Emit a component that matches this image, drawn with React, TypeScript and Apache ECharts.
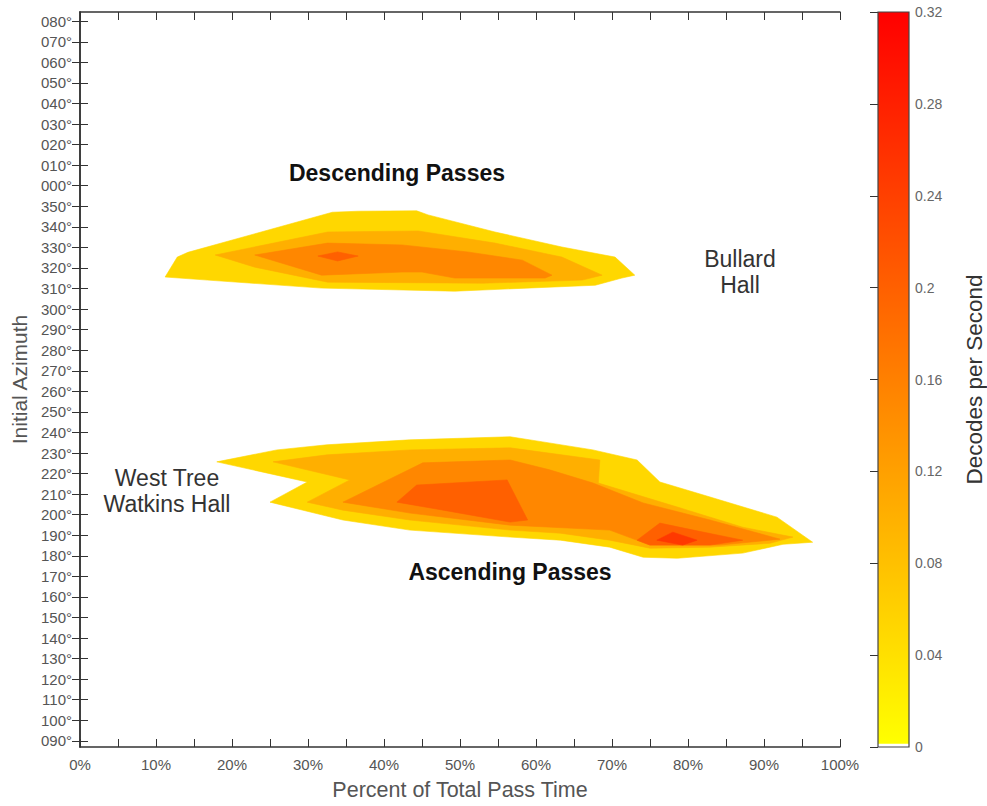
import React, { useEffect, useRef } from 'react';
import * as echarts from 'echarts';

// ---------- data ----------
// y axis: initial azimuth, unwrapped (360 -> 000°, 440 -> 080°)
const AZIMUTH_TICKS = [
  90, 100, 110, 120, 130, 140, 150, 160, 170, 180, 190, 200, 210, 220, 230, 240, 250, 260,
  270, 280, 290, 300, 310, 320, 330, 340, 350, 360, 370, 380, 390, 400, 410, 420, 430, 440,
];
const AZ_MIN = 87;
const AZ_MAX = 444.5;
const PCT_MIN = 0;
const PCT_MAX = 100;
const PCT_TICK_STEP = 5;
const PCT_LABEL_STEP = 10;

const CBAR_MIN = 0;
const CBAR_MAX = 0.32;
const CBAR_STEP = 0.04;

// contour levels (decodes per second)
const LEVELS = [0.05, 0.1, 0.15, 0.2, 0.25];

// contour polygons: [percent of pass time, azimuth]
const DESC_L1: [number, number][] = [
  [11.2, 315.6], [12.8, 325.3], [14.2, 327.6], [33.2, 347.1], [36.6, 347.6], [44.3, 347.8],
  [45.8, 345.8], [54.6, 337.5], [63.4, 330.2], [70.4, 325.3], [73.0, 316.5], [71.3, 315.1],
  [67.8, 311.6], [49.3, 308.7], [31.8, 310.2], [16.8, 314.1],
];
const DESC_L2: [number, number][] = [
  [17.8, 326.3], [32.6, 337.5], [44.5, 338.0], [54.6, 332.1], [63.4, 325.3], [68.7, 316.5],
  [66.1, 314.1], [53.0, 312.6], [32.6, 313.1], [23.0, 320.4],
];
const DESC_L3: [number, number][] = [
  [23.0, 326.3], [32.6, 332.1], [42.4, 331.2], [51.0, 327.8], [58.2, 323.8], [62.1, 316.5],
  [61.2, 315.1], [49.3, 315.1], [45.0, 318.0], [42.4, 318.0], [31.8, 316.5],
];
const DESC_L4: [number, number][] = [
  [31.3, 325.8], [33.9, 327.8], [36.6, 325.8], [33.9, 323.4],
];
const ASC_L1: [number, number][] = [
  [18.0, 225.7], [25.9, 231.5], [32.5, 234.0], [43.4, 236.4], [56.6, 237.9], [60.9, 235.4],
  [67.5, 231.5], [73.3, 226.6], [76.3, 215.9], [82.9, 208.6], [91.7, 198.8], [96.4, 186.6],
  [92.5, 185.6], [87.2, 181.3], [78.6, 178.8], [74.1, 179.3], [69.7, 184.2], [63.2, 187.6],
  [56.6, 189.1], [43.4, 192.5], [34.6, 197.4], [25.0, 206.1], [29.9, 215.9],
];
const ASC_L2: [number, number][] = [
  [25.4, 225.7], [32.5, 229.1], [43.4, 231.5], [56.6, 232.5], [68.4, 226.6], [68.2, 215.4],
  [78.6, 203.7], [87.2, 193.9], [93.8, 189.1], [90.8, 186.1], [82.9, 184.2], [75.0, 183.7],
  [69.7, 187.6], [63.2, 191.0], [56.6, 192.5], [43.4, 197.4], [34.6, 202.2], [29.9, 206.1],
  [35.5, 216.9],
];
const ASC_L3: [number, number][] = [
  [34.6, 206.1], [45.1, 225.2], [56.6, 226.6], [61.8, 221.8], [67.5, 215.4], [74.1, 205.7],
  [82.9, 197.4], [92.1, 188.1], [84.2, 185.2], [75.0, 185.2], [69.7, 192.5], [56.6, 194.9],
  [43.4, 200.8],
];
const ASC_L4_LEFT: [number, number][] = [
  [41.7, 206.1], [44.3, 214.4], [56.2, 216.9], [58.9, 197.4], [56.6, 196.4], [47.8, 202.2],
];
const ASC_L4_RIGHT: [number, number][] = [
  [73.3, 187.6], [76.3, 195.9], [80.7, 192.5], [87.2, 187.6], [82.9, 185.2], [75.0, 185.2],
];
const ASC_L5: [number, number][] = [
  [75.9, 187.6], [78.0, 191.5], [81.2, 187.6], [79.3, 185.2],
];

const CONTOURS: { level: number; pts: [number, number][] }[] = [
  { level: LEVELS[0], pts: DESC_L1 },
  { level: LEVELS[0], pts: ASC_L1 },
  { level: LEVELS[1], pts: DESC_L2 },
  { level: LEVELS[1], pts: ASC_L2 },
  { level: LEVELS[2], pts: DESC_L3 },
  { level: LEVELS[2], pts: ASC_L3 },
  { level: LEVELS[3], pts: DESC_L4 },
  { level: LEVELS[3], pts: ASC_L4_LEFT },
  { level: LEVELS[3], pts: ASC_L4_RIGHT },
  { level: LEVELS[4], pts: ASC_L5 },
];

const COLOR_LOW = '#ffff00';
const COLOR_HIGH = '#ff0000';
const FONT = 'Liberation Sans, Arial, sans-serif';

const fmtAz = (v: number) => String(Math.round(v) % 360).padStart(3, '0') + '°';

export default function App() {
  const ref = useRef<HTMLDivElement>(null);
  useEffect(() => {
    const chart = echarts.init(ref.current!, null, { renderer: 'svg' });
    const axisLine = { show: true, lineStyle: { color: '#333', width: 1.5 } };
    const tick = { show: true, inside: true, length: 8, lineStyle: { color: '#333', width: 1 } };
    const option: any = {
      animation: false,
      backgroundColor: '#ffffff',
      textStyle: { fontFamily: FONT },
      visualMap: {
        type: 'continuous',
        show: false,
        min: CBAR_MIN,
        max: CBAR_MAX,
        dimension: 2,
        seriesIndex: 0,
        inRange: { color: [COLOR_LOW, COLOR_HIGH] },
      },
      grid: [
        { left: 80, right: 147, top: 12, bottom: 59 },
        { left: 878, right: 75, top: 12, bottom: 59 },
      ],
      xAxis: [
        {
          gridIndex: 0, type: 'value', min: PCT_MIN, max: PCT_MAX, interval: PCT_TICK_STEP,
          position: 'bottom', axisLine, axisTick: tick, splitLine: { show: false },
          axisLabel: {
            fontSize: 15, color: '#555', margin: 10, fontFamily: FONT,
            formatter: (v: number) => (v % PCT_LABEL_STEP === 0 ? v + '%' : ''),
          },
          name: 'Percent of Total Pass Time', nameLocation: 'middle', nameGap: 32,
          nameTextStyle: { fontSize: 21.5, color: '#555', fontFamily: FONT },
        },
        {
          gridIndex: 0, type: 'value', min: PCT_MIN, max: PCT_MAX, interval: PCT_TICK_STEP,
          position: 'top', axisLine, axisTick: tick, axisLabel: { show: false }, splitLine: { show: false },
        },
        { gridIndex: 1, type: 'value', min: 0, max: 1, show: false },
      ],
      yAxis: [
        {
          gridIndex: 0, type: 'value', min: AZ_MIN, max: AZ_MAX, position: 'left',
          axisLine, axisTick: { ...tick, customValues: AZIMUTH_TICKS }, splitLine: { show: false },
          axisLabel: { customValues: AZIMUTH_TICKS, formatter: fmtAz, fontSize: 15, color: '#555', margin: 8, fontFamily: FONT },
          name: 'Initial Azimuth', nameLocation: 'middle', nameGap: 46,
          nameTextStyle: { fontSize: 21, color: '#555', fontFamily: FONT },
        },
        {
          gridIndex: 0, type: 'value', min: AZ_MIN, max: AZ_MAX, position: 'right',
          axisLine, axisTick: { ...tick, customValues: AZIMUTH_TICKS }, splitLine: { show: false },
          axisLabel: { show: false },
        },
        {
          gridIndex: 1, type: 'value', min: CBAR_MIN, max: CBAR_MAX, interval: CBAR_STEP, position: 'right',
          axisLine: { show: false }, axisTick: { ...tick, length: 8 }, splitLine: { show: false },
          axisLabel: { fontSize: 14, color: '#666', margin: 6, fontFamily: FONT },
          name: 'Decodes per Second', nameLocation: 'middle', nameGap: 54, nameRotate: 90,
          nameTextStyle: { fontSize: 22.5, color: '#333', fontFamily: FONT },
        },
      ],
      series: [
        {
          type: 'custom',
          xAxisIndex: 0,
          yAxisIndex: 0,
          encode: { x: 0, y: 1 },
          data: CONTOURS.map((c, i) => [c.pts[0][0], c.pts[0][1], c.level, i]),
          renderItem: (params: any, api: any) => {
            const c = CONTOURS[api.value(3)];
            const points = c.pts.map((p) => api.coord(p));
            const color = api.visual('color');
            return {
              type: 'polygon',
              shape: { points },
              style: { fill: color, stroke: color, lineWidth: 0.6 },
            };
          },
          silent: true,
          z: 2,
        },
        {
          type: 'custom',
          xAxisIndex: 2,
          yAxisIndex: 2,
          data: [[0, CBAR_MIN]],
          renderItem: (params: any, api: any) => {
            const p0 = api.coord([0, CBAR_MAX]);
            const p1 = api.coord([1, CBAR_MIN]);
            return {
              type: 'rect',
              shape: { x: p0[0], y: p0[1], width: p1[0] - p0[0], height: p1[1] - p0[1] },
              style: {
                fill: new echarts.graphic.LinearGradient(0, 1, 0, 0, [
                  { offset: 0, color: '#ffffff' },
                  { offset: 0.004, color: '#ffffff' },
                  { offset: 0.005, color: COLOR_LOW },
                  { offset: 1, color: COLOR_HIGH },
                ]),
                stroke: '#444',
                lineWidth: 1.2,
              },
            };
          },
          silent: true,
          z: 1,
        },
      ],
      graphic: [
        {
          type: 'text', x: 397, y: 173,
          style: { text: 'Descending Passes', fill: '#111', font: `bold 23px ${FONT}`, align: 'center', verticalAlign: 'middle' },
        },
        {
          type: 'text', x: 510, y: 572,
          style: { text: 'Ascending Passes', fill: '#111', font: `bold 23px ${FONT}`, align: 'center', verticalAlign: 'middle' },
        },
        {
          type: 'text', x: 740, y: 272,
          style: { text: 'Bullard\nHall', fill: '#333', font: `23px ${FONT}`, lineHeight: 26, align: 'center', verticalAlign: 'middle' },
        },
        {
          type: 'text', x: 167, y: 491,
          style: { text: 'West Tree\nWatkins Hall', fill: '#333', font: `23px ${FONT}`, lineHeight: 26, align: 'center', verticalAlign: 'middle' },
        },
      ],
    };
    chart.setOption(option);
    return () => chart.dispose();
  }, []);
  return <div ref={ref} style={{ position: 'absolute', left: 0, top: 0, width: 987, height: 806 }} />;
}
